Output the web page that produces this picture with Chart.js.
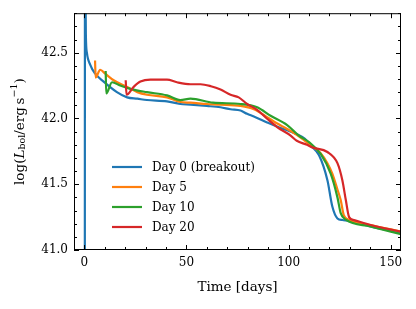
<!DOCTYPE html>
<html lang="en">
<head>
  <meta charset="UTF-8" />
  <title>Bolometric light curves</title>
  <script src="https://cdn.jsdelivr.net/npm/chart.js"></script>
  <style>
    html, body { margin: 0; padding: 0; background: #fff; }
    #wrap { width: 416px; height: 309px; }
  </style>
</head>
<body>
  <div id="wrap"><canvas id="lcChart"></canvas></div>

  <script>
    // tick labels
    const xTicks = [0, 50, 100, 150];
    const yTicks = [41.0, 41.5, 42.0, 42.5];

    // Day 0 (breakout)
    const day0Time = [0.3, 0.35, 0.8, 1.3, 2.9, 5.4, 9.5, 16, 21, 26, 30.7, 40.5, 47, 52, 60, 66.7, 71.6, 76.5, 79.7, 83, 89.5, 94, 99.3, 104, 108, 110.8, 114.9, 119, 121.4, 123.9, 126.3, 129.5, 140, 155];
    const day0Lum  = [40.5, 43.5, 42.64, 42.5, 42.41, 42.34, 42.28, 42.2, 42.16, 42.15, 42.14, 42.13, 42.11, 42.105, 42.095, 42.085, 42.07, 42.06, 42.035, 42.015, 41.97, 41.94, 41.91, 41.88, 41.845, 41.795, 41.72, 41.53, 41.33, 41.24, 41.228, 41.222, 41.18, 41.13];

    // Day 5
    const day5Time = [5.3, 5.6, 7.8, 10.3, 14.4, 21, 26, 30.7, 40.5, 47, 52, 60, 66.7, 76.5, 83, 89.5, 94, 99.3, 104, 110.8, 115.5, 119, 121.4, 123.9, 125.5, 127, 129.6, 140, 155];
    const day5Lum  = [42.44, 42.31, 42.37, 42.34, 42.29, 42.24, 42.2, 42.18, 42.16, 42.125, 42.12, 42.11, 42.105, 42.095, 42.07, 42.01, 41.965, 41.92, 41.875, 41.795, 41.74, 41.66, 41.58, 41.46, 41.38, 41.265, 41.23, 41.19, 41.14];

    // Day 10
    const day10Time = [10.5, 10.8, 13.6, 17.6, 22.5, 30.7, 40.5, 47, 52, 63, 76.5, 84.6, 91.2, 99.3, 105, 110, 115.7, 120.6, 123.9, 125.5, 128, 140, 155];
    const day10Lum  = [42.36, 42.19, 42.275, 42.25, 42.225, 42.2, 42.175, 42.14, 42.15, 42.12, 42.11, 42.085, 42.02, 41.95, 41.87, 41.82, 41.73, 41.58, 41.40, 41.28, 41.23, 41.18, 41.12];

    // Day 20
    const day20Time = [20.3, 20.7, 24.2, 27.5, 32.4, 40.5, 45.4, 52, 56.9, 62, 66.7, 71.6, 75.6, 79.7, 84.6, 89.5, 94.4, 101, 104, 109, 111.6, 119, 123.9, 126.3, 128, 129.6, 132, 140.2, 155];
    const day20Lum  = [42.29, 42.18, 42.24, 42.28, 42.295, 42.295, 42.275, 42.26, 42.26, 42.245, 42.22, 42.18, 42.16, 42.11, 42.066, 41.998, 41.934, 41.87, 41.83, 41.80, 41.78, 41.745, 41.66, 41.53, 41.38, 41.25, 41.227, 41.19, 41.14];

    const series = [
      { label: 'Day 0 (breakout)', t: day0Time, y: day0Lum, color: '#1f77b4' },
      { label: 'Day 5', t: day5Time, y: day5Lum, color: '#ff7f0e' },
      { label: 'Day 10', t: day10Time, y: day10Lum, color: '#2ca02c' },
      { label: 'Day 20', t: day20Time, y: day20Lum, color: '#d62728' }
    ];

    const serif = '"DejaVu Serif", serif';

    // frame, inward ticks, axis titles and legend
    const decorations = {
      id: 'decorations',
      afterDraw(chart) {
        const ctx = chart.ctx;
        const a = chart.chartArea;
        const xs = chart.scales.x, ys = chart.scales.y;
        ctx.save();
        ctx.strokeStyle = '#000';
        ctx.lineWidth = 1;
        ctx.strokeRect(a.left + 0.5, a.top + 0.5, a.right - a.left - 1, a.bottom - a.top - 1);

        ctx.beginPath();
        for (let v = -0; v <= 155; v += 10) {
          const px = Math.round(xs.getPixelForValue(v)) + 0.5;
          const len = v % 50 === 0 ? 5 : 3;
          ctx.moveTo(px, a.bottom); ctx.lineTo(px, a.bottom - len);
          ctx.moveTo(px, a.top); ctx.lineTo(px, a.top + len);
        }
        for (let i = 0; i <= 18; i++) {
          const v = 41 + i * 0.1;
          const py = Math.round(ys.getPixelForValue(v)) + 0.5;
          const len = i % 5 === 0 ? 5 : 3;
          ctx.moveTo(a.left, py); ctx.lineTo(a.left + len, py);
          ctx.moveTo(a.right, py); ctx.lineTo(a.right - len, py);
        }
        ctx.stroke();

        // x title
        ctx.fillStyle = '#000';
        ctx.font = '13.5px ' + serif;
        ctx.textAlign = 'center';
        ctx.textBaseline = 'middle';
        ctx.fillText('Time [days]', (a.left + a.right) / 2, 287);

        // y title with sub/superscripts
        const parts = [
          { s: 'log(', f: '13.5px ' + serif, dy: 0 },
          { s: 'L', f: 'italic 13.5px ' + serif, dy: 0 },
          { s: 'bol', f: '9.5px ' + serif, dy: 3 },
          { s: '/erg\u2009s', f: '13.5px ' + serif, dy: 0 },
          { s: '\u22121', f: '9.5px ' + serif, dy: -5 },
          { s: ')', f: '13.5px ' + serif, dy: 0 }
        ];
        let total = 0;
        parts.forEach(p => { ctx.font = p.f; p.w = ctx.measureText(p.s).width; total += p.w; });
        ctx.translate(20, (a.top + a.bottom) / 2);
        ctx.rotate(-Math.PI / 2);
        ctx.textAlign = 'left';
        let x = -total / 2;
        parts.forEach(p => { ctx.font = p.f; ctx.fillText(p.s, x, p.dy); x += p.w; });
        ctx.setTransform(1, 0, 0, 1, 0, 0);

        // legend
        ctx.font = '12px ' + serif;
        ctx.textAlign = 'left';
        ctx.textBaseline = 'middle';
        chart.data.datasets.forEach((ds, i) => {
          const yy = 167 + i * 20;
          ctx.strokeStyle = ds.borderColor;
          ctx.lineWidth = 2.2;
          ctx.beginPath();
          ctx.moveTo(112, yy); ctx.lineTo(142, yy);
          ctx.stroke();
          ctx.fillStyle = '#000';
          ctx.fillText(ds.label, 152, yy + 1);
        });
        ctx.restore();
      }
    };

    new Chart(document.getElementById('lcChart'), {
      type: 'scatter',
      data: {
        datasets: series.map((s, i) => ({
          label: s.label,
          data: s.t.map((t, k) => ({ x: t, y: s.y[k] })),
          borderColor: s.color,
          backgroundColor: s.color,
          borderWidth: 2.2,
          showLine: true,
          pointRadius: 0,
          cubicInterpolationMode: 'monotone',
          order: series.length - i
        }))
      },
      options: {
        responsive: true,
        maintainAspectRatio: false,
        animation: false,
        layout: { padding: { top: 12, right: 15, left: 0, bottom: 0 } },
        plugins: { legend: { display: false }, tooltip: { enabled: false } },
        scales: {
          x: {
            type: 'linear', min: -5, max: 155,
            afterBuildTicks: s => { s.ticks = xTicks.map(v => ({ value: v })); },
            afterFit: s => { s.height = 59; },
            grid: { display: false, drawTicks: false },
            border: { display: false },
            ticks: { color: '#000', font: { family: serif, size: 12 }, padding: 6, maxRotation: 0 }
          },
          y: {
            type: 'linear', min: 41.0, max: 42.8,
            afterBuildTicks: s => { s.ticks = yTicks.map(v => ({ value: v })); },
            afterFit: s => { s.width = 74; },
            grid: { display: false, drawTicks: false },
            border: { display: false },
            ticks: { color: '#000', font: { family: serif, size: 12 }, padding: 6, callback: v => v.toFixed(1) }
          }
        }
      },
      plugins: [decorations]
    });
  </script>
</body>
</html>
